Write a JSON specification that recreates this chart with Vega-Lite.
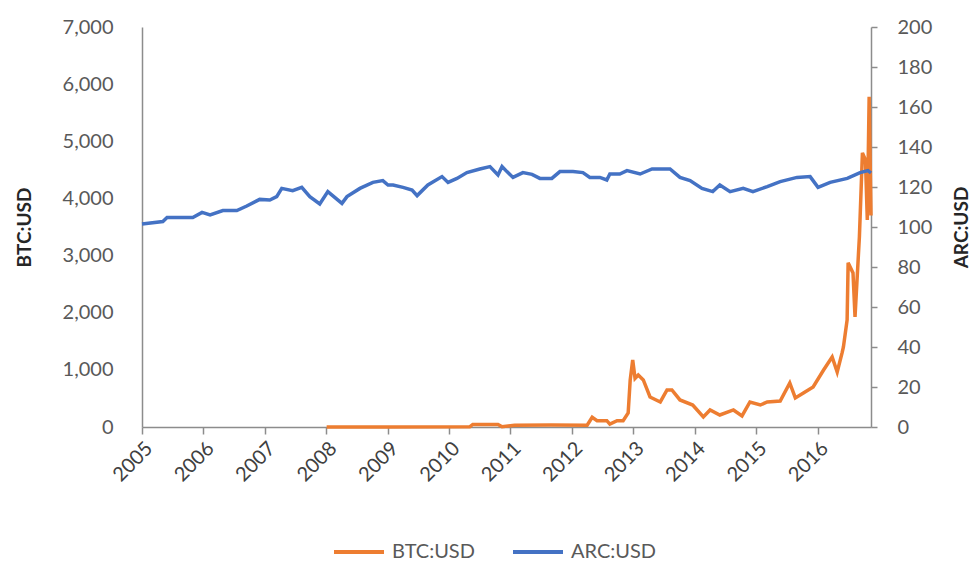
{
  "$schema": "https://vega.github.io/schema/vega-lite/v6.json",
  "width": 729,
  "height": 400,
  "autosize": {"type": "none"},
  "padding": {"left": 142, "top": 27, "right": 105, "bottom": 135},
  "background": "white",
  "config": {
    "view": {"stroke": null},
    "font": "Lato",
    "axis": {
      "labelFont": "Lato",
      "labelColor": "#595959",
      "labelFontSize": 20,
      "titleFont": "Lato",
      "titleFontSize": 19,
      "titleFontWeight": "bold",
      "titleColor": "#262626",
      "domainColor": "#8c8c8c",
      "domainWidth": 1.5,
      "tickColor": "#8c8c8c",
      "tickWidth": 1.5,
      "grid": false
    },
    "legend": {
      "labelFont": "Lato",
      "labelFontSize": 20,
      "labelColor": "#595959"
    }
  },
  "datasets": {
    "rows": [
      {"date": "2008-01-04", "series": "BTC:USD", "value": 2},
      {"date": "2009-01-01", "series": "BTC:USD", "value": 2},
      {"date": "2010-05-04", "series": "BTC:USD", "value": 3},
      {"date": "2010-05-22", "series": "BTC:USD", "value": 45},
      {"date": "2010-10-19", "series": "BTC:USD", "value": 45},
      {"date": "2010-11-12", "series": "BTC:USD", "value": 5},
      {"date": "2011-01-26", "series": "BTC:USD", "value": 30},
      {"date": "2011-09-01", "series": "BTC:USD", "value": 35},
      {"date": "2012-04-01", "series": "BTC:USD", "value": 30},
      {"date": "2012-05-01", "series": "BTC:USD", "value": 170},
      {"date": "2012-05-30", "series": "BTC:USD", "value": 110},
      {"date": "2012-07-27", "series": "BTC:USD", "value": 110},
      {"date": "2012-08-14", "series": "BTC:USD", "value": 50},
      {"date": "2012-09-26", "series": "BTC:USD", "value": 110},
      {"date": "2012-11-01", "series": "BTC:USD", "value": 110},
      {"date": "2012-12-01", "series": "BTC:USD", "value": 245},
      {"date": "2012-12-13", "series": "BTC:USD", "value": 820},
      {"date": "2012-12-28", "series": "BTC:USD", "value": 1173},
      {"date": "2013-01-11", "series": "BTC:USD", "value": 850},
      {"date": "2013-01-30", "series": "BTC:USD", "value": 910},
      {"date": "2013-03-01", "series": "BTC:USD", "value": 823},
      {"date": "2013-04-10", "series": "BTC:USD", "value": 525},
      {"date": "2013-06-10", "series": "BTC:USD", "value": 438},
      {"date": "2013-07-20", "series": "BTC:USD", "value": 648},
      {"date": "2013-08-18", "series": "BTC:USD", "value": 648},
      {"date": "2013-10-05", "series": "BTC:USD", "value": 473},
      {"date": "2013-12-20", "series": "BTC:USD", "value": 385},
      {"date": "2014-02-21", "series": "BTC:USD", "value": 175},
      {"date": "2014-04-02", "series": "BTC:USD", "value": 298},
      {"date": "2014-05-30", "series": "BTC:USD", "value": 210},
      {"date": "2014-08-19", "series": "BTC:USD", "value": 298},
      {"date": "2014-10-09", "series": "BTC:USD", "value": 193},
      {"date": "2014-11-25", "series": "BTC:USD", "value": 438},
      {"date": "2015-01-26", "series": "BTC:USD", "value": 385},
      {"date": "2015-03-08", "series": "BTC:USD", "value": 438},
      {"date": "2015-05-24", "series": "BTC:USD", "value": 455},
      {"date": "2015-07-20", "series": "BTC:USD", "value": 770},
      {"date": "2015-08-22", "series": "BTC:USD", "value": 508},
      {"date": "2015-10-09", "series": "BTC:USD", "value": 595},
      {"date": "2015-12-06", "series": "BTC:USD", "value": 700},
      {"date": "2016-02-06", "series": "BTC:USD", "value": 998},
      {"date": "2016-03-28", "series": "BTC:USD", "value": 1226},
      {"date": "2016-04-27", "series": "BTC:USD", "value": 963},
      {"date": "2016-05-26", "series": "BTC:USD", "value": 1296},
      {"date": "2016-06-03", "series": "BTC:USD", "value": 1400},
      {"date": "2016-06-25", "series": "BTC:USD", "value": 1874},
      {"date": "2016-07-01", "series": "BTC:USD", "value": 2872},
      {"date": "2016-07-30", "series": "BTC:USD", "value": 2697},
      {"date": "2016-08-11", "series": "BTC:USD", "value": 1926},
      {"date": "2016-09-06", "series": "BTC:USD", "value": 3327},
      {"date": "2016-09-24", "series": "BTC:USD", "value": 4798},
      {"date": "2016-10-12", "series": "BTC:USD", "value": 4676},
      {"date": "2016-10-23", "series": "BTC:USD", "value": 3625},
      {"date": "2016-11-03", "series": "BTC:USD", "value": 5779},
      {"date": "2016-11-14", "series": "BTC:USD", "value": 3700},
      {"date": "2005-01-01", "series": "ARC:USD", "value": 101.5},
      {"date": "2005-05-05", "series": "ARC:USD", "value": 102.7},
      {"date": "2005-05-30", "series": "ARC:USD", "value": 104.7},
      {"date": "2005-10-30", "series": "ARC:USD", "value": 104.7},
      {"date": "2005-12-24", "series": "ARC:USD", "value": 107.3},
      {"date": "2006-02-10", "series": "ARC:USD", "value": 106},
      {"date": "2006-04-27", "series": "ARC:USD", "value": 108.2},
      {"date": "2006-07-19", "series": "ARC:USD", "value": 108.2},
      {"date": "2006-09-16", "series": "ARC:USD", "value": 110.5},
      {"date": "2006-12-02", "series": "ARC:USD", "value": 113.8},
      {"date": "2007-01-31", "series": "ARC:USD", "value": 113.5},
      {"date": "2007-03-13", "series": "ARC:USD", "value": 115.2},
      {"date": "2007-04-12", "series": "ARC:USD", "value": 119.3},
      {"date": "2007-06-16", "series": "ARC:USD", "value": 118.2},
      {"date": "2007-08-09", "series": "ARC:USD", "value": 119.8},
      {"date": "2007-09-26", "series": "ARC:USD", "value": 115.2},
      {"date": "2007-11-24", "series": "ARC:USD", "value": 111.5},
      {"date": "2008-01-11", "series": "ARC:USD", "value": 117.7},
      {"date": "2008-04-04", "series": "ARC:USD", "value": 111.8},
      {"date": "2008-05-04", "series": "ARC:USD", "value": 115.2},
      {"date": "2008-07-20", "series": "ARC:USD", "value": 119.3},
      {"date": "2008-10-05", "series": "ARC:USD", "value": 122.3},
      {"date": "2008-12-03", "series": "ARC:USD", "value": 123.2},
      {"date": "2009-01-03", "series": "ARC:USD", "value": 121},
      {"date": "2009-02-02", "series": "ARC:USD", "value": 121},
      {"date": "2009-04-02", "series": "ARC:USD", "value": 119.8},
      {"date": "2009-05-26", "series": "ARC:USD", "value": 118.5},
      {"date": "2009-06-25", "series": "ARC:USD", "value": 115.7},
      {"date": "2009-08-28", "series": "ARC:USD", "value": 121},
      {"date": "2009-11-20", "series": "ARC:USD", "value": 125.2},
      {"date": "2009-12-26", "series": "ARC:USD", "value": 122.3},
      {"date": "2010-02-17", "series": "ARC:USD", "value": 124.3},
      {"date": "2010-04-17", "series": "ARC:USD", "value": 127.2},
      {"date": "2010-07-03", "series": "ARC:USD", "value": 129},
      {"date": "2010-09-01", "series": "ARC:USD", "value": 130.2},
      {"date": "2010-10-19", "series": "ARC:USD", "value": 126},
      {"date": "2010-11-12", "series": "ARC:USD", "value": 130.2},
      {"date": "2010-12-11", "series": "ARC:USD", "value": 127.7},
      {"date": "2011-01-16", "series": "ARC:USD", "value": 124.8},
      {"date": "2011-03-16", "series": "ARC:USD", "value": 127.2},
      {"date": "2011-05-09", "series": "ARC:USD", "value": 126.3},
      {"date": "2011-06-25", "series": "ARC:USD", "value": 124.3},
      {"date": "2011-09-04", "series": "ARC:USD", "value": 124.3},
      {"date": "2011-10-22", "series": "ARC:USD", "value": 127.7},
      {"date": "2012-01-08", "series": "ARC:USD", "value": 127.7},
      {"date": "2012-03-07", "series": "ARC:USD", "value": 127.2},
      {"date": "2012-04-17", "series": "ARC:USD", "value": 124.8},
      {"date": "2012-06-16", "series": "ARC:USD", "value": 124.8},
      {"date": "2012-07-27", "series": "ARC:USD", "value": 123.5},
      {"date": "2012-08-14", "series": "ARC:USD", "value": 126.5},
      {"date": "2012-10-12", "series": "ARC:USD", "value": 126.5},
      {"date": "2012-11-24", "series": "ARC:USD", "value": 128.2},
      {"date": "2013-02-10", "series": "ARC:USD", "value": 126.5},
      {"date": "2013-04-22", "series": "ARC:USD", "value": 129},
      {"date": "2013-08-07", "series": "ARC:USD", "value": 129},
      {"date": "2013-10-05", "series": "ARC:USD", "value": 124.8},
      {"date": "2013-12-04", "series": "ARC:USD", "value": 123.2},
      {"date": "2014-02-13", "series": "ARC:USD", "value": 119.3},
      {"date": "2014-04-18", "series": "ARC:USD", "value": 117.7},
      {"date": "2014-05-30", "series": "ARC:USD", "value": 121},
      {"date": "2014-07-30", "series": "ARC:USD", "value": 117.7},
      {"date": "2014-10-16", "series": "ARC:USD", "value": 119.3},
      {"date": "2014-12-13", "series": "ARC:USD", "value": 117.7},
      {"date": "2015-03-08", "series": "ARC:USD", "value": 120.2},
      {"date": "2015-05-24", "series": "ARC:USD", "value": 122.7},
      {"date": "2015-09-01", "series": "ARC:USD", "value": 124.8},
      {"date": "2015-11-18", "series": "ARC:USD", "value": 125.2},
      {"date": "2016-01-04", "series": "ARC:USD", "value": 119.8},
      {"date": "2016-03-16", "series": "ARC:USD", "value": 122.3},
      {"date": "2016-06-26", "series": "ARC:USD", "value": 124.3},
      {"date": "2016-09-10", "series": "ARC:USD", "value": 127.2},
      {"date": "2016-10-27", "series": "ARC:USD", "value": 128.2},
      {"date": "2016-11-14", "series": "ARC:USD", "value": 127}
    ]
  },
  "data": {"name": "rows"},
  "encoding": {
    "x": {
      "field": "date",
      "type": "temporal",
      "scale": {"domain": ["2005-01-01", "2016-11-14"]},
      "axis": {
        "title": null,
        "format": "%Y",
        "tickCount": {"interval": "year", "step": 1},
        "labelAngle": -45,
        "tickSize": 7,
        "labelPadding": 4,
        "labelColor": "#404040"
      }
    },
    "color": {
      "field": "series",
      "type": "nominal",
      "scale": {"domain": ["BTC:USD", "ARC:USD"], "range": ["#ED7D31", "#4472C4"]},
      "legend": {
        "title": null,
        "orient": "none",
        "direction": "horizontal",
        "legendX": 190,
        "legendY": 498,
        "symbolType": "stroke",
        "symbolSize": 2500,
        "symbolStrokeWidth": 4,
        "labelOffset": 6,
        "columnPadding": 30,
        "padding": 0
      }
    }
  },
  "layer": [
    {
      "transform": [{"filter": "datum.series === 'BTC:USD'"}],
      "mark": {"type": "line", "strokeWidth": 3.5, "interpolate": "linear"},
      "encoding": {
        "y": {
          "field": "value",
          "type": "quantitative",
          "scale": {"domain": [0, 7000], "nice": false},
          "axis": {
            "title": "BTC:USD",
            "orient": "left",
            "values": [0, 1000, 2000, 3000, 4000, 5000, 6000, 7000],
            "format": ",.0f",
            "ticks": false,
            "labelPadding": 29,
            "titlePadding": 28
          }
        }
      }
    },
    {
      "transform": [{"filter": "datum.series === 'ARC:USD'"}],
      "mark": {"type": "line", "strokeWidth": 3.5, "interpolate": "linear"},
      "encoding": {
        "y": {
          "field": "value",
          "type": "quantitative",
          "scale": {"domain": [0, 200], "nice": false},
          "axis": {
            "title": "ARC:USD",
            "orient": "right",
            "values": [0, 20, 40, 60, 80, 100, 120, 140, 160, 180, 200],
            "ticks": true,
            "tickSize": 6,
            "labelPadding": 20,
            "titlePadding": 40,
            "titleAngle": 270
          }
        }
      }
    }
  ],
  "resolve": {"scale": {"y": "independent"}}
}
